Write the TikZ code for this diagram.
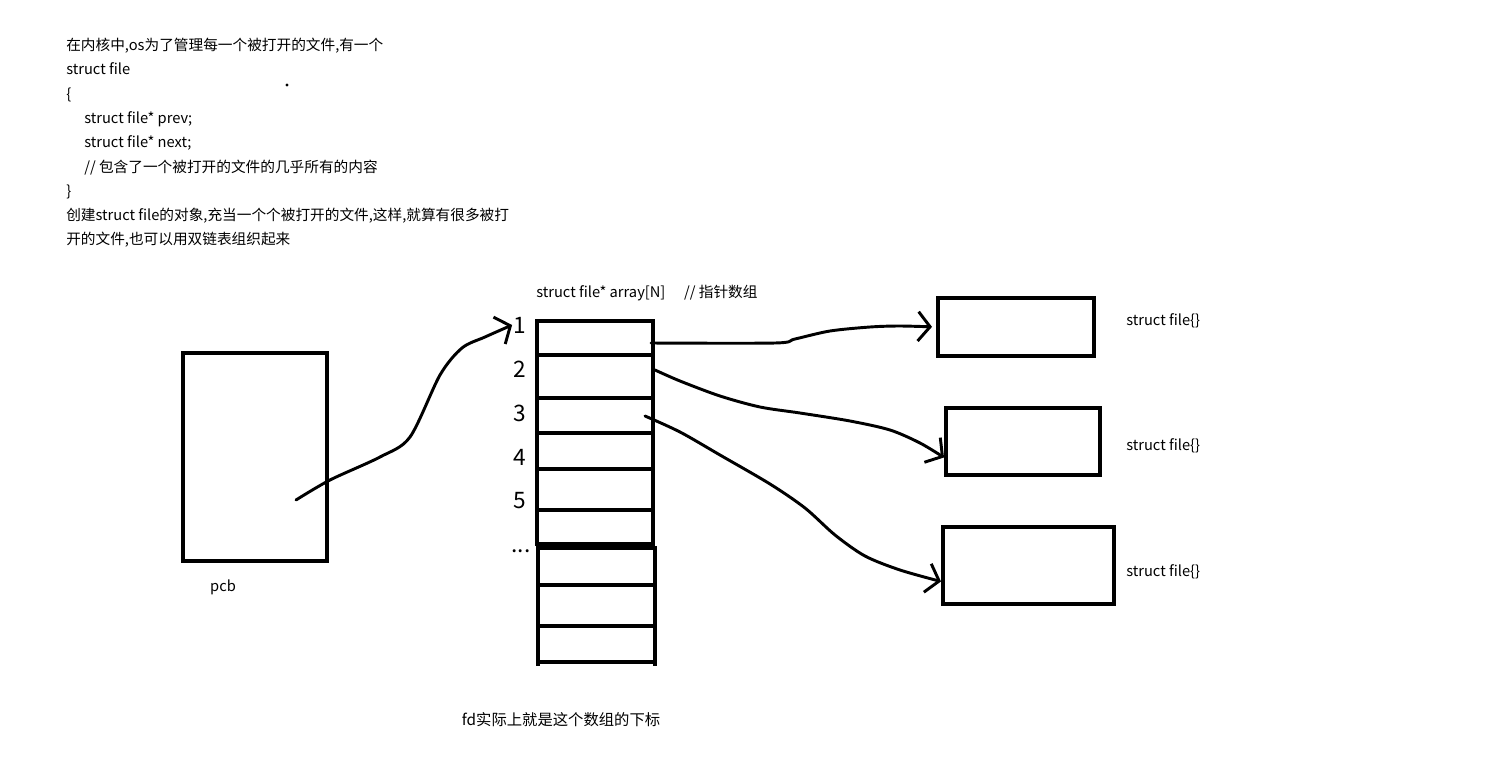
\documentclass[tikz,border=0pt]{standalone}
\usepackage{fontspec}
\setmainfont{Noto Sans CJK SC}
\usetikzlibrary{arrows.meta}

\begin{document}
\begin{tikzpicture}[x=0.75pt, y=-0.75pt,
  box/.style={draw, line width=3pt, inner sep=0pt},
  bar/.style={line width=3pt},
  link/.style={line width=2.2pt, line cap=round, line join=round,
    -{Straight Barb[length=9pt, width=22pt, line width=2.2pt]}},
  txt/.style={font=\fontsize{11}{18.2}\selectfont, inner sep=0pt},
  num/.style={font=\fontsize{17}{20}\selectfont, inner sep=1pt}]
  \useasboundingbox (0,0) rectangle (1500,757);

  % explanation text
  \node[txt, anchor=north west, align=left] (intro) at (66,38)
    {在内核中,os为了管理每一个被打开的文件,有一个\\
     struct file\\
     \{\\
     \hspace*{13.5pt}struct file* prev;\\
     \hspace*{13.5pt}struct file* next;\\
     \hspace*{13.5pt}// 包含了一个被打开的文件的几乎所有的内容\\
     \}\\
     创建struct file的对象,充当一个个被打开的文件,这样,就算有很多被打\\
     开的文件,也可以用双链表组织起来};
  \fill (287,85) circle (1.2pt);

  % pcb
  \node[box, minimum width=108pt, minimum height=156pt] (pcb) at (255,457) {};
  \node[txt] (pcblabel) at (223,587) {pcb};
  \coordinate (pcbout) at (296,500);

  % fd array
  \node[txt, anchor=west] (title) at (536,293) {struct file* array[N]\hspace{14pt}// 指针数组};
  \draw[bar] (537,321) rectangle (653,544);
  \draw[bar] (538,548) rectangle (655,662);
  \draw[bar] (538,662) -- (538,666) (655,662) -- (655,666);
  \foreach \y in {355,398,433,469,510}
    \draw[bar] (537,\y) -- (653,\y);
  \foreach \y in {585,626}
    \draw[bar] (538,\y) -- (655,\y);
  \foreach \n/\y in {1/325,2/369,3/413,4/457,5/501}
    \node[num] (n\n) at (520,\y) {\n};
  \node[num] (dots) at (521,551) {...};
  \coordinate (s1) at (651,343);
  \coordinate (s2) at (655,370);
  \coordinate (s3) at (645,416);

  % struct file objects
  \node[box, minimum width=117pt, minimum height=43.5pt] (file1) at (1016,327) {};
  \node[box, minimum width=115.5pt, minimum height=50.25pt] (file2) at (1023,441.5) {};
  \node[box, minimum width=128.25pt, minimum height=57.75pt] (file3) at (1028.5,565.5) {};
  \node[txt, anchor=west] (lab1) at (1126,321) {struct file\{\}};
  \node[txt, anchor=west] (lab2) at (1126,446) {struct file\{\}};
  \node[txt, anchor=west] (lab3) at (1126,572) {struct file\{\}};

  % pointers
  \draw[link] plot[smooth, tension=0.5] coordinates
    {(pcbout) (330,480) (380,457) (410,437) (440,375) (462,348) (485,337) (n1.west)};
  \draw[link, shorten >=3pt] plot[smooth, tension=0.5] coordinates
    {(s1) (775,343) (795,339) (830,331) (870,327) (900,326) (file1.west)};
  \draw[link] plot[smooth, tension=0.5] coordinates
    {(s2) (680,381) (720,396) (760,407) (800,413) (850,421) (890,430) (920,443) ([yshift=-12pt]file2.west)};
  \draw[link] plot[smooth, tension=0.5] coordinates
    {(s3) (680,432) (720,455) (770,484) (805,508) (835,535) (865,556) (900,570) ([yshift=-12pt]file3.west)};

  \node[txt, font=\fontsize{11.5}{14}\selectfont] (fdnote) at (561,720) {fd实际上就是这个数组的下标};
\end{tikzpicture}
\end{document}
